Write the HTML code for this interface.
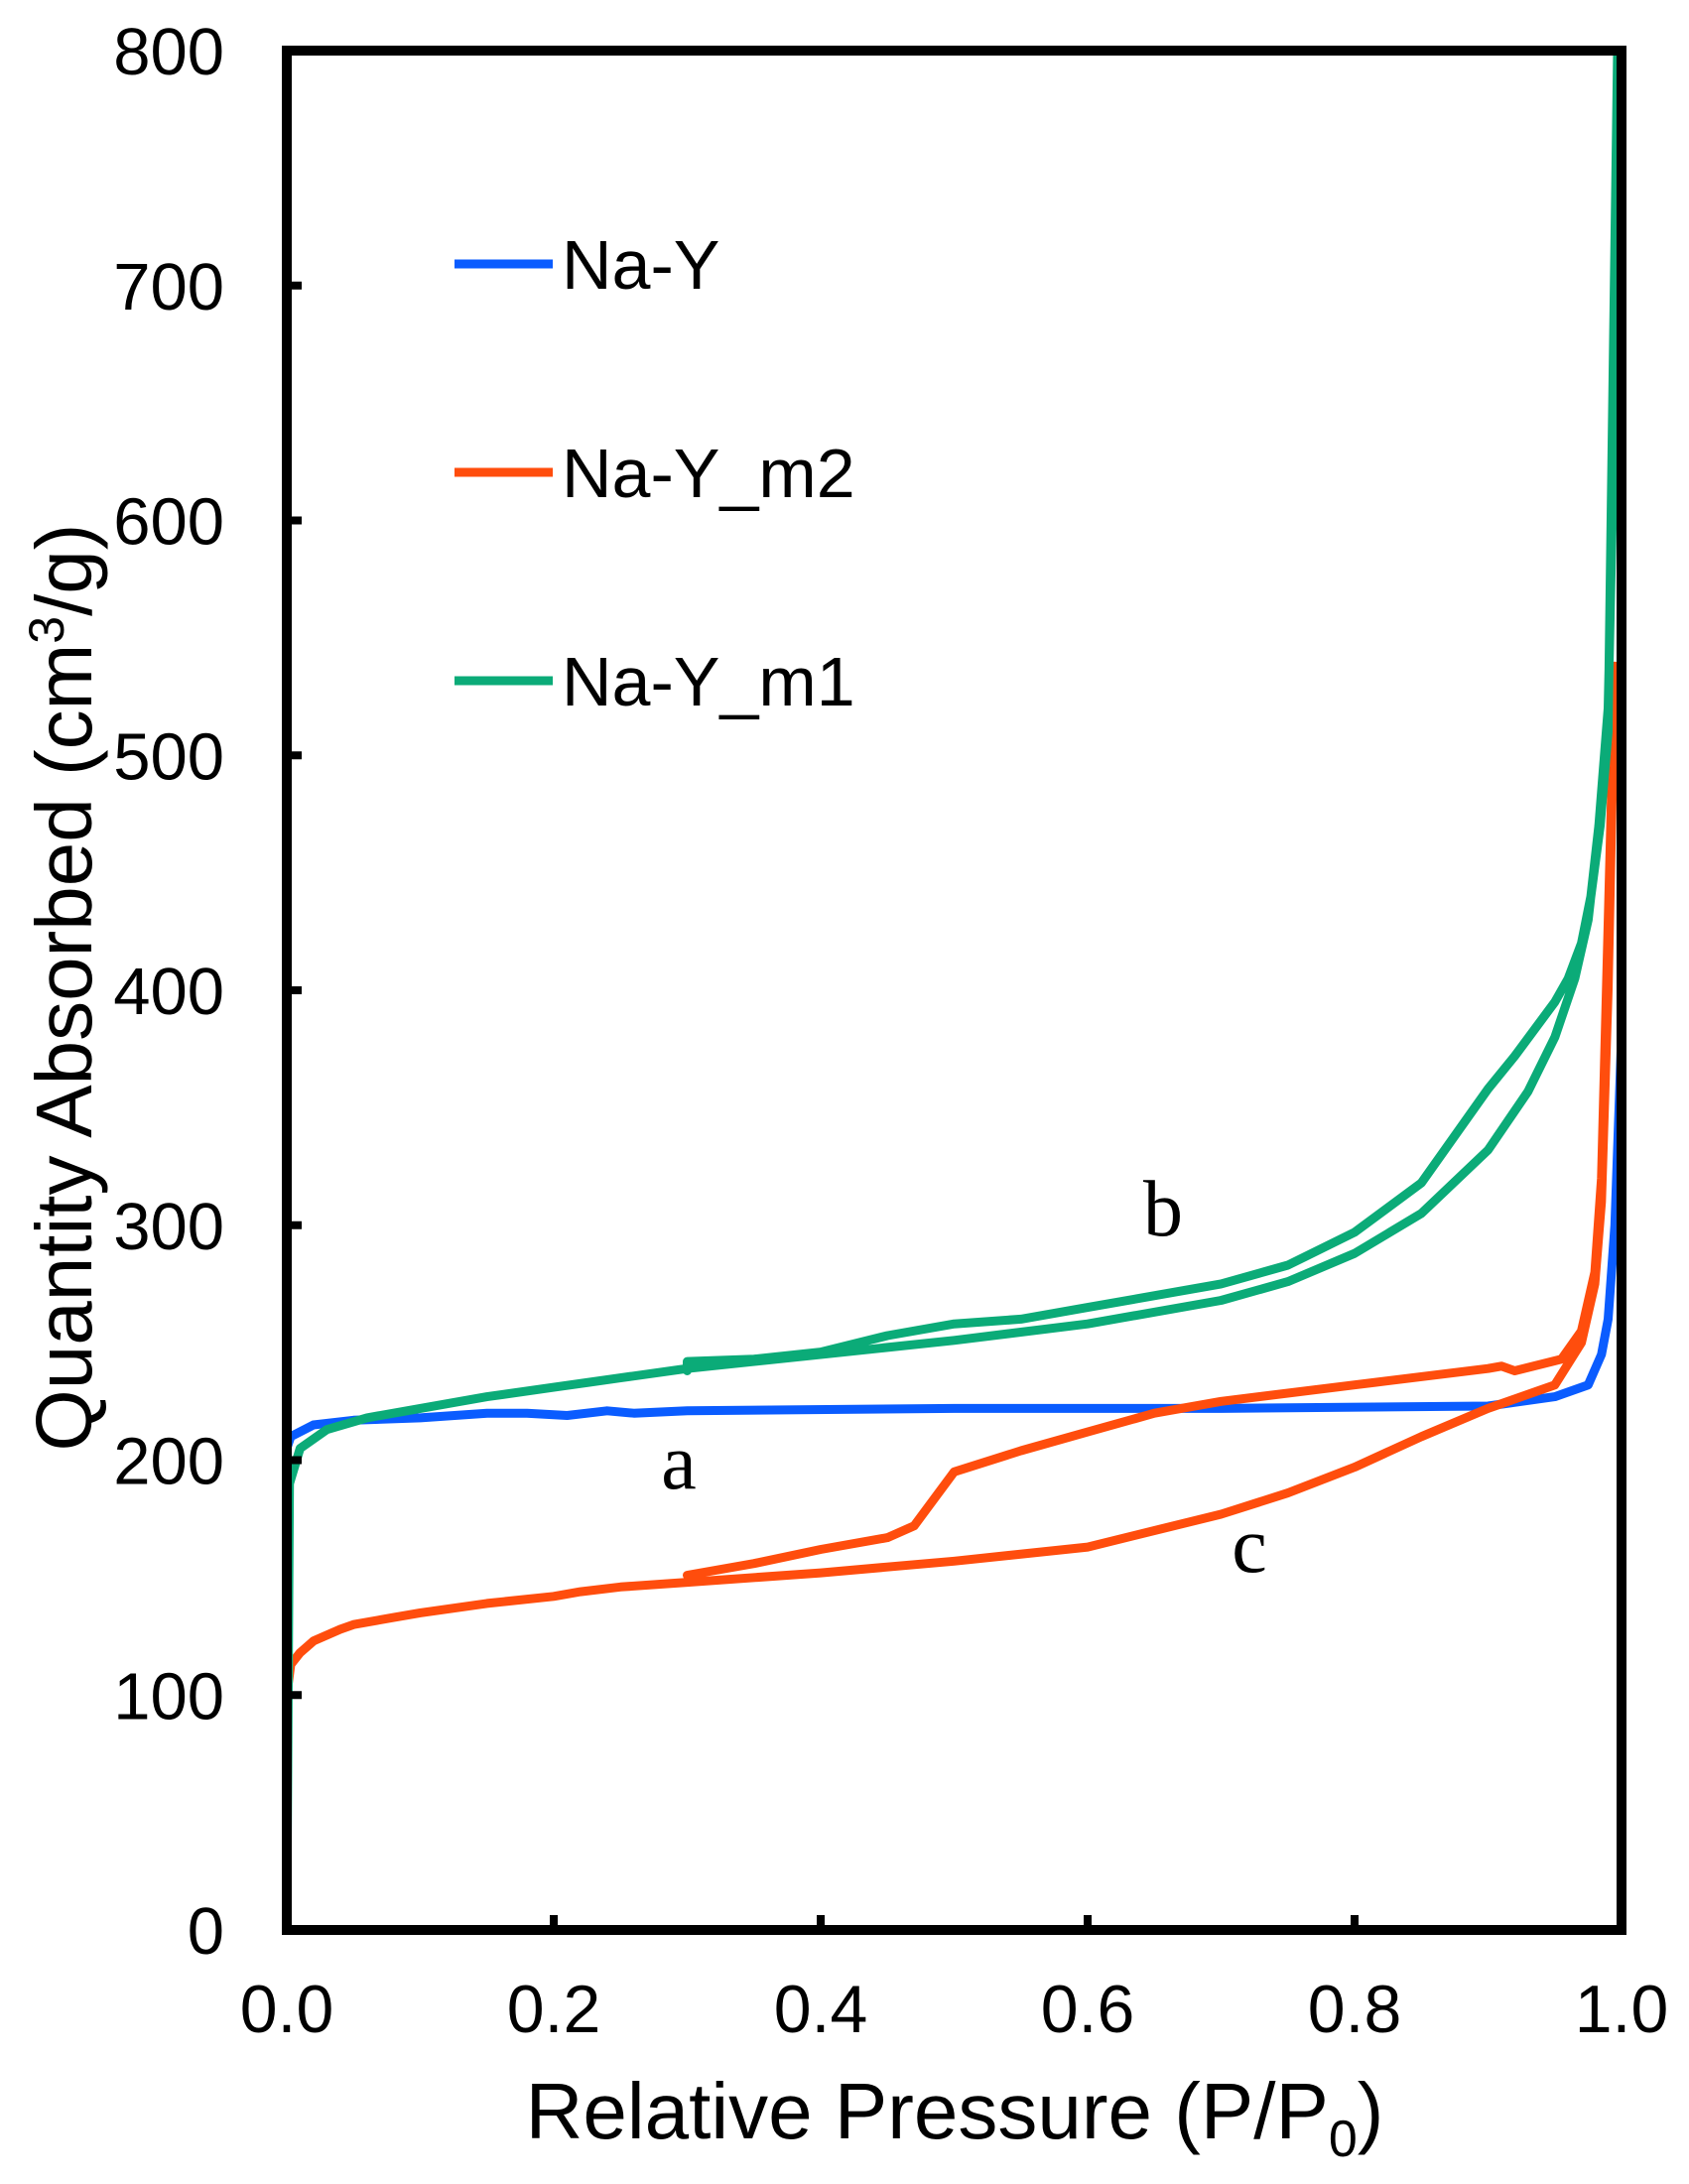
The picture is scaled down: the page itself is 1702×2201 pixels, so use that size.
<!DOCTYPE html>
<html><head><meta charset="utf-8"><style>html,body{margin:0;padding:0;background:#fff}svg{display:block}</style></head>
<body>
<svg width="1702" height="2201" viewBox="0 0 1702 2201" xmlns="http://www.w3.org/2000/svg" font-family="Liberation Sans, Arial, sans-serif">
<rect width="1702" height="2201" fill="#fff"/>
<g id="curves" fill="none" stroke-width="9" stroke-linejoin="round" stroke-linecap="round"></g>
<rect x="289" y="51" width="1345" height="1894" fill="none" stroke="#000" stroke-width="10"/>
<g stroke="#000" stroke-width="8" id="ticks"></g>
<g font-size="67" fill="#000" id="labels"></g>
<g font-size="70" fill="#000">
<line x1="458" y1="266" x2="557" y2="266" stroke="#0a5cff" stroke-width="9"/>
<line x1="458" y1="476" x2="557" y2="476" stroke="#ff4d0d" stroke-width="9"/>
<line x1="458" y1="686" x2="557" y2="686" stroke="#0bab78" stroke-width="9"/>
<text x="566" y="291">Na-Y</text>
<text x="566" y="501">Na-Y_m2</text>
<text x="566" y="711">Na-Y_m1</text>
</g>
<g font-family="Liberation Serif, serif" font-size="80" fill="#000" text-anchor="middle">
<text x="684" y="1500">a</text>
<text x="1172" y="1245">b</text>
<text x="1259" y="1584">c</text>
</g>
<text x="962" y="2155" font-size="80" text-anchor="middle">Relative Pressure (P/P<tspan font-size="52" dy="18">0</tspan><tspan dy="-18">)</tspan></text>
<text transform="translate(92,995) rotate(-90)" font-size="80" text-anchor="middle">Quantity Absorbed (cm<tspan font-size="50" dy="-28">3</tspan><tspan dy="28">/g)</tspan></text>
<script>
const X=x=>289+x*1345, Y=y=>1945-y*2.3675;
const series=[
["#0a5cff",[[0,0],[0,205],[0.003,210],[0.02,215],[0.05,217],[0.1,218],[0.15,220],[0.18,220],[0.21,219],[0.24,221],[0.26,220],[0.3,221],[0.5,222],[0.7,222],[0.9,223],[0.95,227],[0.975,232],[0.985,245],[0.99,260],[0.995,300],[1.0,380]]],
["#ff4d0d",[[0,0],[0,100],[0.003,113],[0.01,118],[0.02,123],[0.04,128],[0.05,130],[0.08,133],[0.1,135],[0.15,139],[0.2,142],[0.22,144],[0.25,146],[0.3,148],[0.4,152],[0.5,157],[0.6,163],[0.65,170],[0.7,177],[0.75,186],[0.8,197],[0.85,210],[0.9,222],[0.95,232],[0.97,250],[0.98,275],[0.985,310],[0.99,400],[0.995,538],[0.985,320],[0.98,280],[0.97,255],[0.955,243],[0.92,238],[0.91,240],[0.9,239],[0.8,232],[0.7,225],[0.65,220],[0.6,212],[0.55,204],[0.5,195],[0.47,172],[0.45,167],[0.4,162],[0.35,156],[0.3,151]]],
["#0bab78",[[0,0],[0.002,190],[0.01,205],[0.03,213],[0.06,218],[0.1,222],[0.15,227],[0.2,231],[0.25,235],[0.3,239],[0.4,245],[0.5,251],[0.6,258],[0.7,268],[0.75,276],[0.8,288],[0.85,305],[0.9,332],[0.93,357],[0.95,380],[0.965,405],[0.975,430],[0.983,470],[0.99,520],[0.995,650],[0.997,800],[0.99,510],[0.984,470],[0.977,440],[0.97,420],[0.96,405],[0.95,395],[0.92,372],[0.9,358],[0.85,318],[0.8,297],[0.75,283],[0.7,275],[0.6,265],[0.55,260],[0.5,258],[0.45,253],[0.4,246],[0.35,243],[0.3,242],[0.3,238]]]];
const NS="http://www.w3.org/2000/svg";
const g=document.getElementById("curves");
for(const [c,pts] of series){const p=document.createElementNS(NS,"polyline");p.setAttribute("stroke",c);p.setAttribute("points",pts.map(q=>X(q[0]).toFixed(1)+","+Y(q[1]).toFixed(1)).join(" "));g.appendChild(p);}
const t=document.getElementById("ticks"),l=document.getElementById("labels");
for(let i=0;i<=5;i++){const x=X(i*0.2);
 if(i>0&&i<5){const a=document.createElementNS(NS,"line");a.setAttribute("x1",x);a.setAttribute("x2",x);a.setAttribute("y1",1945);a.setAttribute("y2",1930);t.appendChild(a);}
 const s=document.createElementNS(NS,"text");s.setAttribute("x",x);s.setAttribute("y",2048);s.setAttribute("text-anchor","middle");s.setAttribute("font-size","68");s.textContent=(i*0.2).toFixed(1);l.appendChild(s);}
for(let v=0;v<=800;v+=100){const y=Y(v);
 if(v>0&&v<800){const a=document.createElementNS(NS,"line");a.setAttribute("x1",289);a.setAttribute("x2",304);a.setAttribute("y1",y);a.setAttribute("y2",y);t.appendChild(a);}
 const s=document.createElementNS(NS,"text");s.setAttribute("x",226);s.setAttribute("y",y+24);s.setAttribute("text-anchor","end");s.textContent=v;l.appendChild(s);}
</script>
</svg>
</body></html>
